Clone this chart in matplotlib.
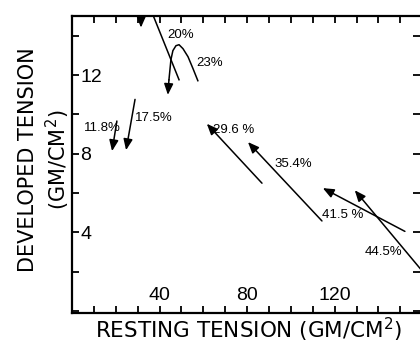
import matplotlib
matplotlib.use("Agg")
import matplotlib.pyplot as plt
from matplotlib.patches import FancyArrowPatch
from matplotlib.ticker import MultipleLocator, FixedLocator

plt.rcParams['font.family'] = ['Liberation Sans', 'DejaVu Sans']
plt.rcParams['mathtext.fontset'] = 'custom'
plt.rcParams['mathtext.rm'] = 'DejaVu Sans'
plt.rcParams['mathtext.it'] = 'DejaVu Sans'

# straight arrows: (label, tail, tip, label position)
labels = ['11.8%', '17.5%', '29.6 %', '35.4%', '41.5 %', '44.5%']
tails = [(20.5, 9.66), (28.8, 10.76), (86.8, 6.5), (114.2, 4.58), (152.1, 4.05), (165.0, 1.37)]
tips = [(18.3, 8.13), (24.7, 8.18), (61.6, 9.52), (80.4, 8.59), (114.6, 6.25), (129.2, 6.14)]
label_pos = [(5.5, 9.3), (28.8, 9.8), (64.3, 9.2), (92.5, 7.5), (114.2, 4.87), (133.8, 2.98)]

# 20% run: goes up out of the frame and comes back down
run20_x = [48.9, 37.0, 34.0, 31.8]
run20_y = [11.76, 15.05, 15.9, 15.9]
run20_tip = (31.5, 14.41)

# 23% run: curls over and drops
run23_x = [57.5, 55.3, 53.0, 50.7, 48.9, 47.5, 46.1, 45.2, 44.3, 43.8]
run23_y = [11.71, 12.32, 12.93, 13.34, 13.54, 13.49, 13.24, 12.78, 11.76, 10.99]

x_major = [40, 80, 120]
y_major = [4, 8, 12]

fig = plt.figure(figsize=(4.2, 3.43), dpi=100)
ax = fig.add_axes([72 / 420, 30 / 343, 1 - 72 / 420, (313 - 16) / 343])
ax.set_xlim(0, 159)
ax.set_ylim(-0.1, 15.0)

arrow_kw = dict(arrowstyle='-|>,head_length=0.6,head_width=0.25', mutation_scale=11,
                color='black', lw=1.1, shrinkA=0, shrinkB=0)

for lab, t0, t1, lp in zip(labels, tails, tips, label_pos):
    ax.add_patch(FancyArrowPatch(t0, t1, **arrow_kw))
    ax.text(lp[0], lp[1], lab, fontsize=9.5, va='center', ha='left')

ax.plot(run20_x, run20_y, color='black', lw=1.1)
ax.add_patch(FancyArrowPatch((run20_x[-1], run20_y[-1]), run20_tip, **arrow_kw))
ax.text(43.5, 14.05, '20%', fontsize=9.5, va='center', ha='left')

ax.plot(run23_x[:-1], run23_y[:-1], color='black', lw=1.1)
ax.add_patch(FancyArrowPatch((run23_x[-2], run23_y[-2]), (run23_x[-1], run23_y[-1]), **arrow_kw))
ax.text(56.8, 12.6, '23%', fontsize=9.5, va='center', ha='left')

for s in ['left', 'top', 'bottom']:
    ax.spines[s].set_linewidth(1.6)
ax.spines['right'].set_visible(False)

ax.xaxis.set_major_locator(FixedLocator(x_major))
ax.xaxis.set_minor_locator(MultipleLocator(10))
ax.yaxis.set_major_locator(FixedLocator(y_major))
ax.yaxis.set_minor_locator(MultipleLocator(2))

ax.tick_params(which='both', direction='in', top=True, right=True, length=5, width=1.3)
ax.tick_params(axis='x', which='major', labelsize=14, pad=-19)
ax.tick_params(axis='y', which='major', labelsize=14, pad=-6)
for lab in ax.get_yticklabels():
    lab.set_ha('left')

fig.text(45 / 420, 1 - 160 / 343, 'DEVELOPED TENSION\n(GM/CM$^{2}$)', rotation=90,
         ha='center', va='center', multialignment='center', fontsize=15,
         family='DejaVu Sans', linespacing=1.3)
fig.text(249 / 420, 1 - 330 / 343, 'RESTING TENSION (GM/CM$^{2}$)',
         ha='center', va='center', fontsize=15.5, family='DejaVu Sans')

fig.savefig('out.png', dpi=100)
